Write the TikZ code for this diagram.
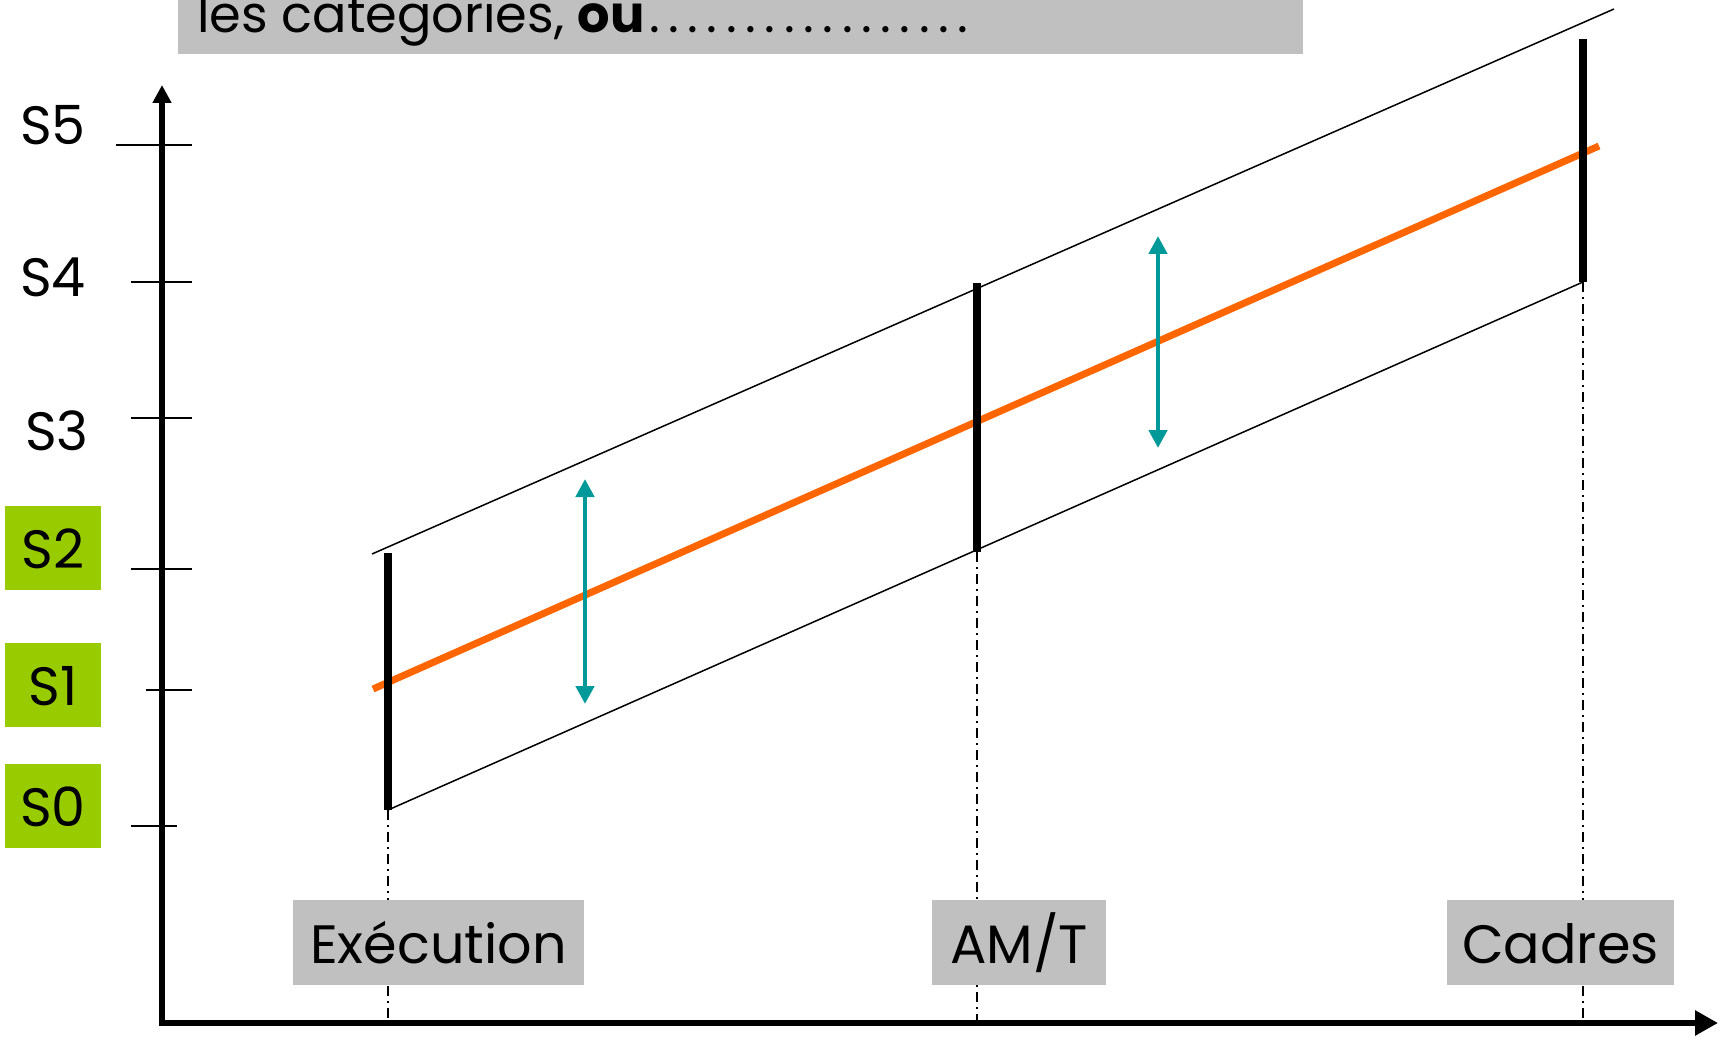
\documentclass[tikz,border=0pt]{standalone}
\usepackage{fontspec}
\setmainfont{Poppins}
\usetikzlibrary{arrows.meta}
\definecolor{boxgrey}{HTML}{C0C0C0}
\definecolor{lime}{HTML}{99CC00}
\definecolor{orng}{HTML}{FF6600}
\definecolor{tealc}{HTML}{009999}
\newcommand\tdot{\makebox[19.3pt][c]{.}}
\begin{document}
\begin{tikzpicture}[x=1pt,y=-1pt,
  axisline/.style={line width=6.5pt},
  tickline/.style={line width=2pt},
  thinline/.style={line width=1.5pt},
  barline/.style={line width=7.5pt},
  trend/.style={line width=7pt,orng},
  spread/.style={line width=4.5pt,tealc,{Triangle[length=18pt,width=18pt]}-{Triangle[length=18pt,width=18pt]}},
  dashdot/.style={line width=1.5pt,dash pattern=on 10pt off 5pt on 2pt off 5pt},
  biglabel/.style={font=\fontsize{54}{60}\selectfont},
  greenbox/.style={biglabel,fill=lime,inner sep=0pt,minimum width=96pt,minimum height=84pt,text height=41pt,text depth=0pt},
  catbox/.style={biglabel,fill=boxgrey,inner sep=0pt,minimum height=85pt,text height=41pt,text depth=0pt}]
\useasboundingbox (0,0) rectangle (1720,1040);
\fill[white] (0,0) rectangle (1720,1040);

% title box
\node[fill=boxgrey,anchor=north west,inner sep=0pt,minimum width=1125pt,minimum height=74pt] (titlebox) at (178,-20) {};
\node[anchor=base west,inner sep=0pt,font=\fontsize{51}{56}\selectfont] (titletext) at (197,33)
  {les categories, \textbf{ou}\tdot\tdot\tdot\tdot\tdot\tdot\tdot\tdot\tdot\tdot\tdot\tdot\tdot\tdot\tdot\tdot\tdot};

% key points
\coordinate (eTop) at (388,553);
\coordinate (eBot) at (388,810);
\coordinate (aTop) at (977,283);
\coordinate (aBot) at (977,552);
\coordinate (cTop) at (1583,39);
\coordinate (cBot) at (1583,282);
\coordinate (upA) at (372,554);
\coordinate (upB) at (1614,9);
\coordinate (orA) at (373,689);
\coordinate (orB) at (1599,146);
\coordinate (yB) at (162,1026);
\coordinate (yT) at (162,85);
\coordinate (xL) at (159,1023);
\coordinate (xR) at (1718,1023);

% dash-dot guides
\draw[dashdot] (eBot) -- (eBot |- xL);
\draw[dashdot] (aBot) -- (aBot |- xL);
\draw[dashdot] (cBot) -- (cBot |- xL);

% category boxes
\node[catbox,minimum width=291pt] (exec) at (438.5,942.5) {Exécution};
\node[catbox,minimum width=174pt] (amt) at (1019,942.5) {AM/T};
\node[catbox,minimum width=227pt] (cadres) at (1560.5,942.5) {Cadres};

% ticks
\coordinate (t5a) at (116,145); \coordinate (t5b) at (192,145);
\coordinate (t4a) at (131,282); \coordinate (t4b) at (192,282);
\coordinate (t3a) at (131,418); \coordinate (t3b) at (192,418);
\coordinate (t2a) at (131,569); \coordinate (t2b) at (192,569);
\coordinate (t1a) at (146,690); \coordinate (t1b) at (192,690);
\coordinate (t0a) at (131,826); \coordinate (t0b) at (177,826);
\draw[tickline] (t5a) -- (t5b);
\draw[tickline] (t4a) -- (t4b);
\draw[tickline] (t3a) -- (t3b);
\draw[tickline] (t2a) -- (t2b);
\draw[tickline] (t1a) -- (t1b);
\draw[tickline] (t0a) -- (t0b);

% axes
\draw[axisline,-{Triangle[length=18pt,width=18pt]}] (yB) -- (yT);
\draw[axisline,-{Triangle[length=23pt,width=24pt]}] (xL) -- (xR);

% level labels
\node[biglabel,anchor=base,inner sep=0pt] (s5) at (53,145) {S5};
\node[biglabel,anchor=base,inner sep=0pt] (s4) at (53,297) {S4};
\node[biglabel,anchor=base,inner sep=0pt] (s3) at (57,450) {S3};
\node[greenbox] (s2) at (53,548) {S2};
\node[greenbox] (s1) at (53,685) {S1};
\node[greenbox] (s0) at (53,806) {S0};

% band lines
\draw[thinline] (upA) -- (upB);
\draw[thinline] (eBot) -- (cBot);

% trend line
\draw[trend] (orA) -- (orB);

% bars
\draw[barline] (eTop) -- (eBot);
\draw[barline] (aTop) -- (aBot);
\draw[barline] (cTop) -- (cBot);

% spread arrows
\coordinate (l1) at (585,479); \coordinate (l2) at (585,704);
\coordinate (r1) at (1158,236); \coordinate (r2) at (1158,448);
\draw[spread] (l1) -- (l2);
\draw[spread] (r1) -- (r2);
\end{tikzpicture}
\end{document}
